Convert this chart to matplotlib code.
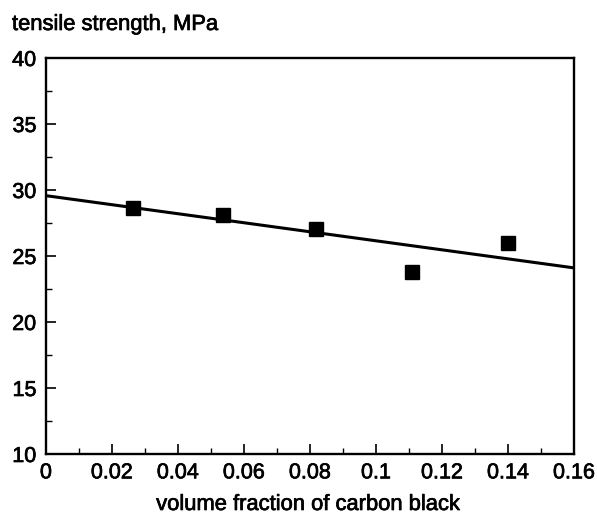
import matplotlib
matplotlib.use("Agg")
import matplotlib.pyplot as plt
from matplotlib.ticker import MultipleLocator
import matplotlib.patheffects as pe

plt.rcParams['font.family'] = ['Liberation Sans', 'DejaVu Sans']

# data
vol_fraction = [0.0265, 0.0536, 0.0818, 0.1110, 0.1400]
tensile = [28.65, 28.13, 27.01, 23.77, 26.01]
fit_x = [0.0, 0.16]
fit_y = [29.57, 24.1]

xticks = [0, 0.02, 0.04, 0.06, 0.08, 0.1, 0.12, 0.14, 0.16]
xticklabels = ['0', '0.02', '0.04', '0.06', '0.08', '0.1', '0.12', '0.14', '0.16']
yticks = [10, 15, 20, 25, 30, 35, 40]

W, H = 597, 516
fig = plt.figure(figsize=(W / 100, H / 100), dpi=100)
ax = fig.add_axes([46 / W, 1 - 454 / H, (574 - 46) / W, (454 - 58) / H])

ax.plot(fit_x, fit_y, color='black', lw=2.2, zorder=2)
ax.plot(vol_fraction, tensile, linestyle='none', marker='s', markersize=9.5,
        markeredgewidth=1.0, color='black', zorder=3)

ax.set_xlim(0, 0.16)
ax.set_ylim(10, 40)
ax.set_xticks(xticks)
ax.set_xticklabels(xticklabels)
ax.set_yticks(yticks)
ax.xaxis.set_minor_locator(MultipleLocator(0.01))
ax.yaxis.set_minor_locator(MultipleLocator(2.5))
ax.tick_params(axis='both', which='major', direction='in', length=7.5, width=1.2,
               labelsize=15.5, top=False, right=False)
ax.tick_params(axis='x', which='major', pad=6)
ax.tick_params(axis='y', which='major', pad=7)
ax.tick_params(axis='both', which='minor', direction='in', length=4, width=1.0,
               top=False, right=False)
for s in ax.spines.values():
    s.set_linewidth(1.7)

thick = [pe.withStroke(linewidth=0.5, foreground='black')]
for lab in ax.get_xticklabels() + ax.get_yticklabels():
    lab.set_path_effects(thick)

fig.text(12 / W, 1 - 30 / H, 'tensile strength, MPa', fontsize=15.8,
         ha='left', va='baseline', path_effects=thick)
fig.text(308 / W, 1 - 510 / H, 'volume fraction of carbon black', fontsize=15.8,
         ha='center', va='baseline', path_effects=thick)

fig.savefig('out.png', dpi=100)
